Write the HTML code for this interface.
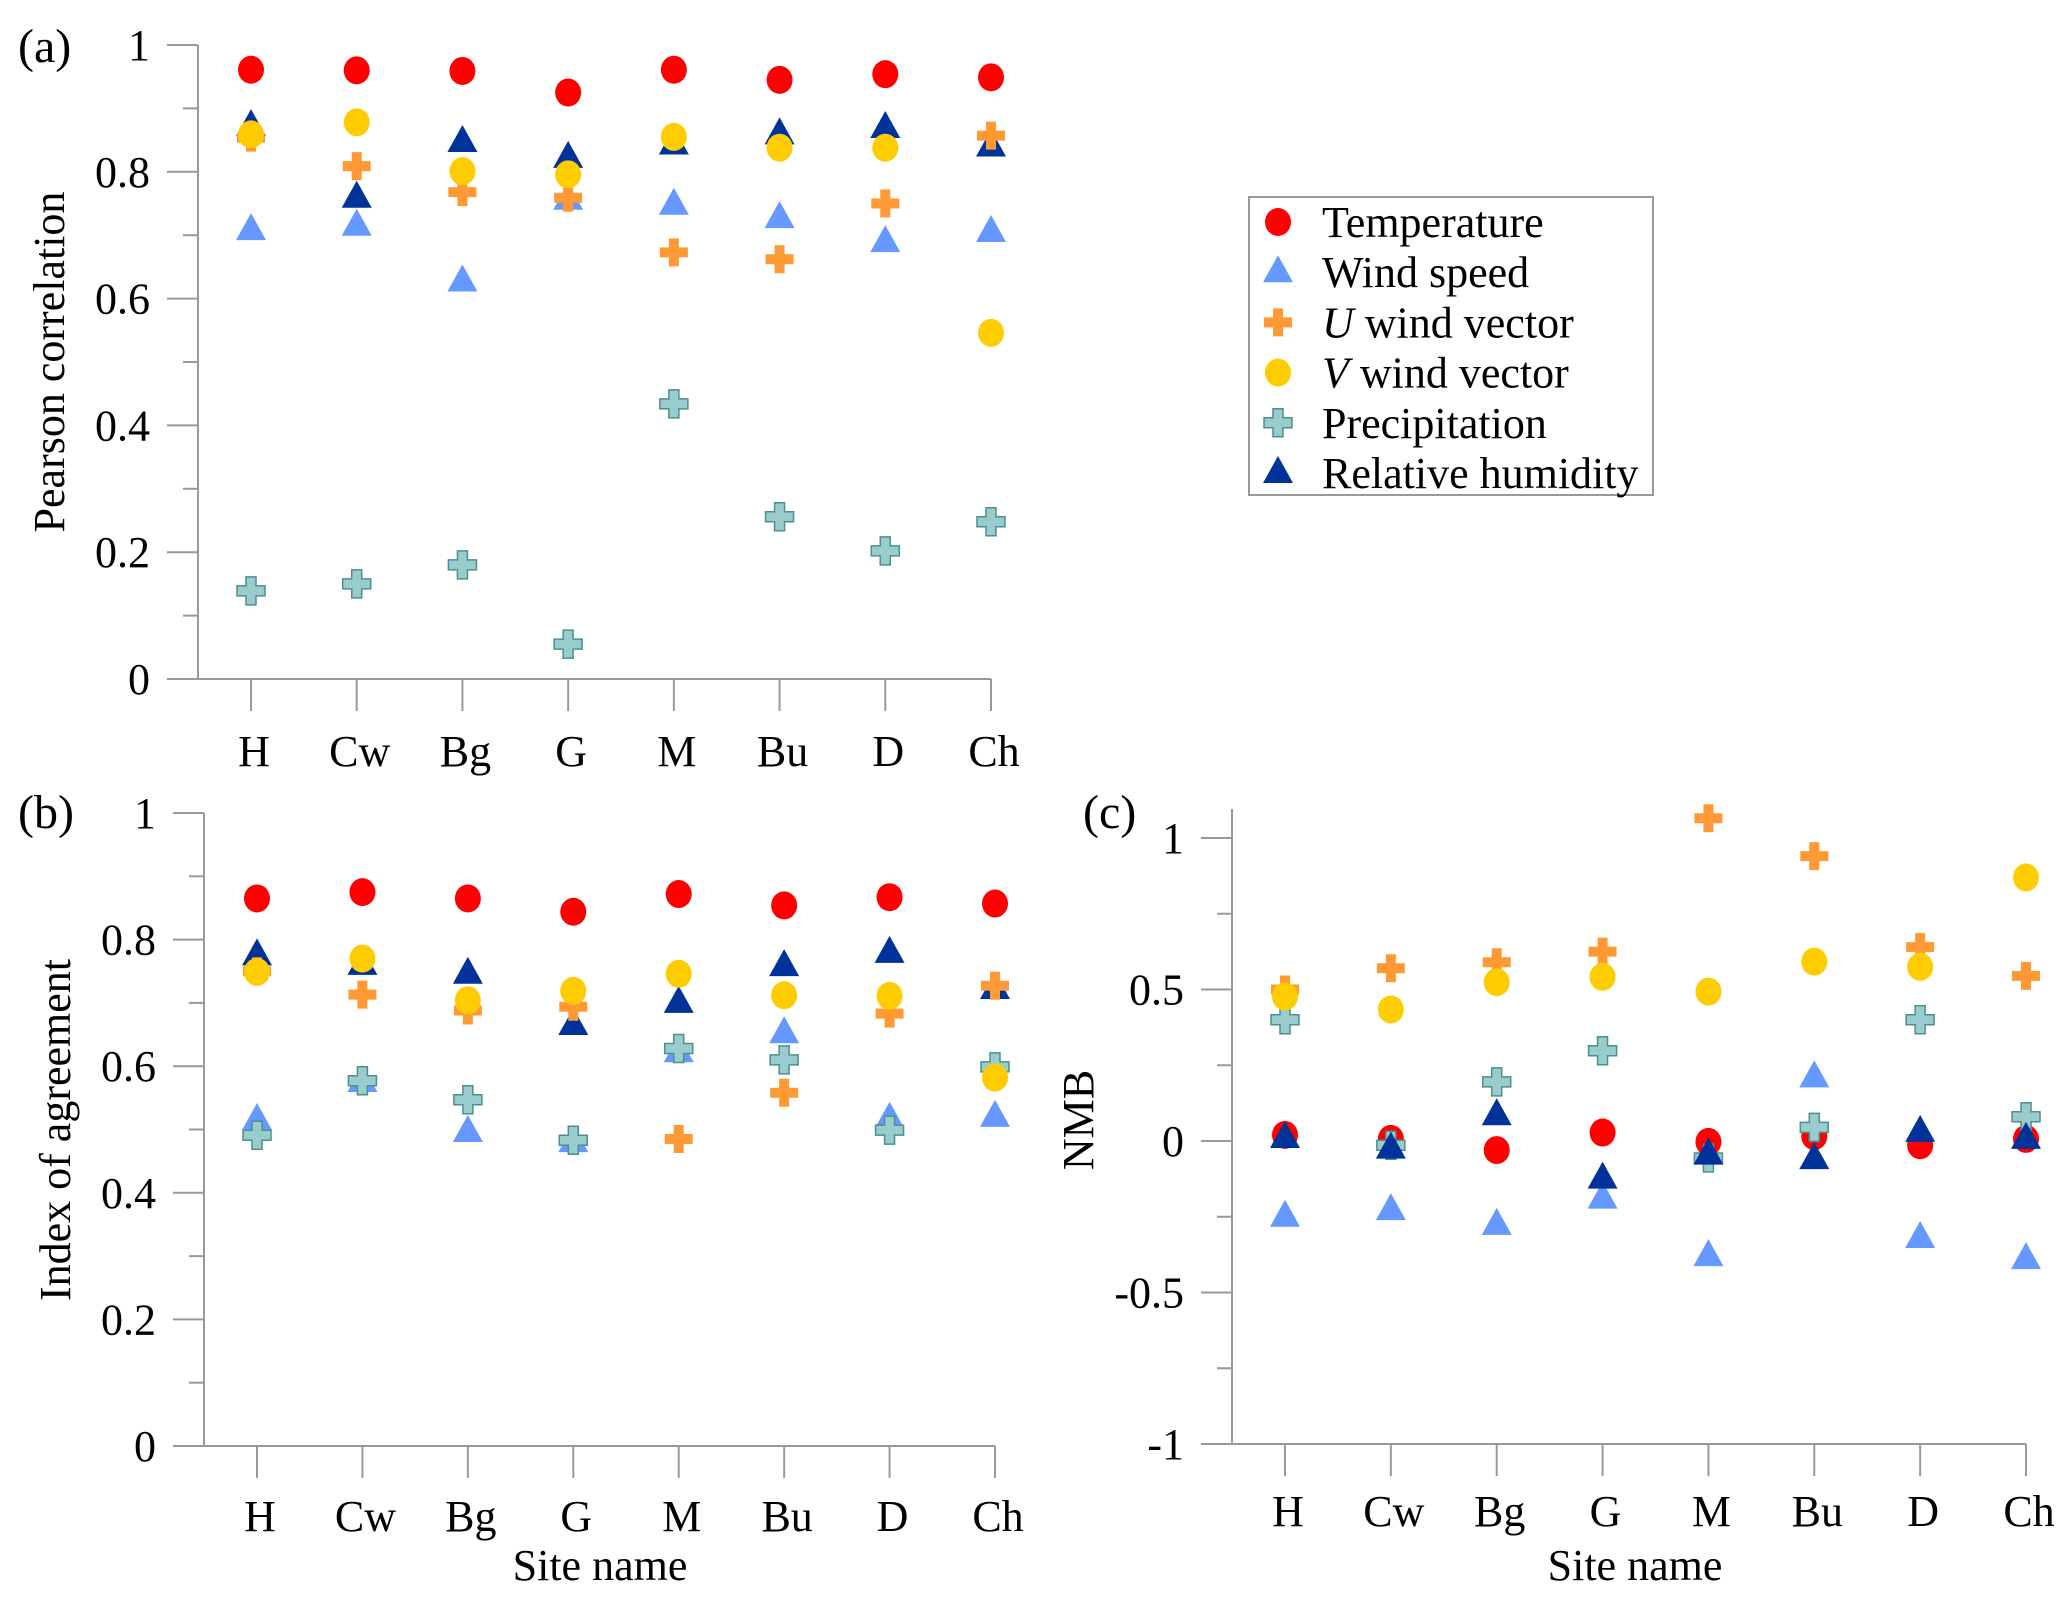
<!DOCTYPE html>
<html><head><meta charset="utf-8">
<style>
html,body{margin:0;padding:0;background:#fff;}
svg{display:block;font-family:"Liberation Serif",serif;}
</style></head>
<body>
<svg id="chart" width="2067" height="1606" viewBox="0 0 2067 1606" xmlns="http://www.w3.org/2000/svg">
<g id="legend">
<rect x="1249" y="197" width="404" height="298" fill="#fff" stroke="#999" stroke-width="2"/>
</g>
</svg>
<script>
const sites = ["H","Cw","Bg","G","M","Bu","D","Ch"];
// Panel (a) Pearson correlation
const aTemp = [0.961,0.960,0.959,0.925,0.961,0.945,0.954,0.949];
const aWind = [0.708,0.715,0.627,0.756,0.748,0.727,0.689,0.705];
const aU    = [0.854,0.809,0.768,0.759,0.673,0.662,0.750,0.857];
const aV    = [0.859,0.878,0.801,0.796,0.855,0.838,0.838,0.546];
const aPrec = [0.139,0.150,0.180,0.055,0.434,0.256,0.202,0.248];
const aRH   = [0.872,0.759,0.847,0.822,0.843,0.859,0.869,0.840];
// Panel (b) Index of agreement
const bTemp = [0.865,0.875,0.865,0.844,0.872,0.854,0.867,0.857];
const bWind = [0.515,0.575,0.496,0.480,0.622,0.652,0.517,0.520];
const bU    = [0.750,0.713,0.688,0.694,0.485,0.558,0.683,0.727];
const bV    = [0.749,0.770,0.704,0.719,0.746,0.712,0.711,0.582];
const bPrec = [0.491,0.577,0.547,0.483,0.628,0.610,0.499,0.599];
const bRH   = [0.775,0.760,0.746,0.665,0.700,0.758,0.779,0.722];
// Panel (c) NMB
const cTemp = [0.020,0.007,-0.030,0.028,-0.003,0.016,-0.014,0.007];
const cWind = [-0.250,-0.228,-0.277,-0.190,-0.380,0.210,-0.320,-0.390];
const cU    = [0.500,0.570,0.590,0.625,1.065,0.940,0.640,0.545];
const cV    = [0.477,0.434,0.524,0.542,0.493,0.592,0.575,0.870];
const cPrec = [0.400,-0.014,0.195,0.298,-0.056,0.045,0.400,0.080];
const cRH   = [0.010,-0.025,0.085,-0.124,-0.045,-0.060,0.030,0.007];
const aTicks = ["0","0.2","0.4","0.6","0.8","1"];
const cTicks = ["-1","-0.5","0","0.5","1"];

const NS="http://www.w3.org/2000/svg";
const svg=document.getElementById('chart');
function el(tag,attrs,parent){const e=document.createElementNS(NS,tag);for(const k in attrs)e.setAttribute(k,attrs[k]);(parent||svg).appendChild(e);return e;}

const C={temp:"#FF0000",wind:"#6699FF",u:"#FF9933",v:"#FFCC00",prec:"#99CCCC",precS:"#4d8f8f",rh:"#003399"};

function marker(kind,x,y,g){
  let m;
  if(kind==="temp"||kind==="v"){
    m=el('ellipse',{cx:x,cy:y,rx:13,ry:14,fill:kind==="temp"?C.temp:C.v},g);
  }else if(kind==="wind"||kind==="rh"){
    m=el('polygon',{points:`${x},${y-17} ${x+15},${y+10} ${x-15},${y+10}`,fill:kind==="wind"?C.wind:C.rh},g);
  }else{
    const a=14,t=5;
    const p=`${x-t},${y-a} ${x+t},${y-a} ${x+t},${y-t} ${x+a},${y-t} ${x+a},${y+t} ${x+t},${y+t} ${x+t},${y+a} ${x-t},${y+a} ${x-t},${y+t} ${x-a},${y+t} ${x-a},${y-t} ${x-t},${y-t}`;
    if(kind==="u") m=el('polygon',{points:p,fill:C.u},g);
    else m=el('polygon',{points:p,fill:C.prec,stroke:C.precS,'stroke-width':1.5},g);
  }
  return m;
}

function panel(cfg){
  const g=el('g',{});
  
  
  const ys=v=>cfg.y0+(v-cfg.vmin)/(cfg.vmax-cfg.vmin)*(cfg.y1-cfg.y0);
  const xs=i=>cfg.xH+i*(cfg.xCh-cfg.xH)/(sites.length-1);
  const line={stroke:"#999",'stroke-width':2};
  const ya=el('line',Object.assign({x1:cfg.ax,y1:cfg.axTop,x2:cfg.ax,y2:cfg.y0},line),g);
  
  
  const xa=el('line',Object.assign({x1:cfg.ax-31,y1:cfg.y0,x2:cfg.xCh,y2:cfg.y0},line),g);
  
  
  cfg.ticks.forEach(t=>{
    const v=parseFloat(t),y=ys(v);
    el('line',Object.assign({x1:cfg.ax-31,y1:y,x2:cfg.ax,y2:y},line),g);
    const tx=el('text',{x:cfg.ax-48,y:y+15,'font-size':44,'text-anchor':'end',fill:'#000'},g);
    tx.textContent=t;
    
    
  });
  for(let k=0;k<cfg.minor.length;k++){
    const y=ys(cfg.minor[k]);
    el('line',Object.assign({x1:cfg.ax-15,y1:y,x2:cfg.ax,y2:y},line),g);
  }
  sites.forEach((s,i)=>{
    const x=xs(i);
    el('line',Object.assign({x1:x,y1:cfg.y0,x2:x,y2:cfg.y0+32},line),g);
    const tx=el('text',{x:x+3,y:cfg.labY,'font-size':44,'text-anchor':'middle',fill:'#000'},g);
    tx.textContent=s;
    
    
  });
  const yt=el('text',{x:0,y:0,'font-size':44,'text-anchor':'middle',fill:'#000',transform:`translate(${cfg.ytx},${cfg.yty}) rotate(-90)`},g);
  yt.textContent=cfg.ytitle;
  
  
  const pl=el('text',{x:cfg.plx,y:cfg.ply,'font-size':48,fill:'#000'},g);
  pl.textContent=cfg.plabel;
  
  
  if(cfg.xtitle){
    const xt=el('text',{x:cfg.xtx,y:cfg.xty,'font-size':44,'text-anchor':'middle',fill:'#000'},g);
    xt.textContent="Site name";
    
    
  }
  const order=[["temp",cfg.d.temp],["wind",cfg.d.wind],["prec",cfg.d.prec],["rh",cfg.d.rh],["u",cfg.d.u],["v",cfg.d.v]];
  order.forEach(([k,arr])=>{
    arr.forEach((v,i)=>{
      const m=marker(k,xs(i),ys(v),g);
      
      
    });
  });
}

panel({name:'panel-a-pearson',vmin:0,vmax:1,y0:679,y1:45,axTop:45,ax:198,xH:251,xCh:991,labY:766,ticks:aTicks,
  minor:[0.1,0.3,0.5,0.7,0.9],ytitle:"Pearson correlation",ytx:64,yty:362,plabel:"(a)",plx:18,ply:62,
  d:{temp:aTemp,wind:aWind,u:aU,v:aV,prec:aPrec,rh:aRH}});
panel({name:'panel-b-agreement',vmin:0,vmax:1,y0:1446,y1:813,axTop:813,ax:204,xH:257,xCh:995,labY:1531,ticks:aTicks,
  minor:[0.1,0.3,0.5,0.7,0.9],ytitle:"Index of agreement",ytx:70,yty:1130,plabel:"(b)",plx:18,ply:828,
  xtitle:true,xtx:600,xty:1580,
  d:{temp:bTemp,wind:bWind,u:bU,v:bV,prec:bPrec,rh:bRH}});
panel({name:'panel-c-nmb',vmin:-1,vmax:1,y0:1444,y1:838,axTop:809,ax:1232,xH:1285,xCh:2026,labY:1526,ticks:cTicks,
  minor:[-0.75,-0.25,0.25,0.75],ytitle:"NMB",ytx:1093,yty:1120,plabel:"(c)",plx:1083,ply:828,
  xtitle:true,xtx:1635,xty:1580,
  d:{temp:cTemp,wind:cWind,u:cU,v:cV,prec:cPrec,rh:cRH}});

const legKinds=["temp","wind","u","v","prec","rh"];
const legLabels=["Temperature","Wind speed","U wind vector","V wind vector","Precipitation","Relative humidity"];
const lg=document.getElementById('legend');
legKinds.forEach((k,i)=>{
  const y=222+i*50.2;
  const m=marker(k,1278,y,lg);
  
  
  const t=el('text',{x:1322,y:y+15,'font-size':44,fill:'#000'},lg);
  if(k==="u"||k==="v"){
    const it=el('tspan',{'font-style':'italic'},t);it.textContent=legLabels[i].charAt(0);
    const rest=el('tspan',{},t);rest.textContent=legLabels[i].slice(1);
  } else t.textContent=legLabels[i];
  
  
});
</script>
</body></html>
